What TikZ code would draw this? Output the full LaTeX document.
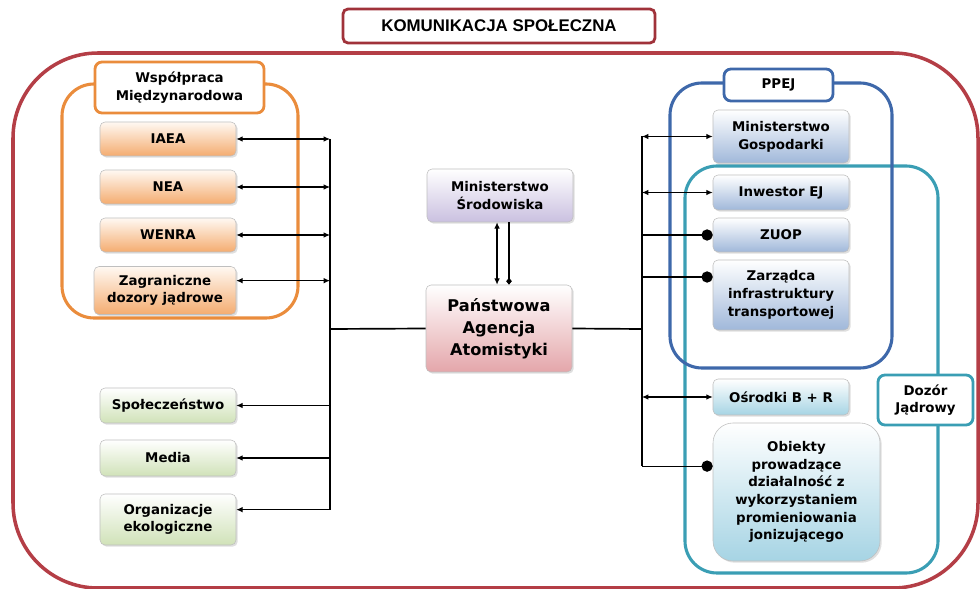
\documentclass[tikz,border=0pt]{standalone}
\usepackage{fontspec}
\setmainfont{DejaVu Sans}
\newfontfamily\titlefont{Liberation Sans}
\usepackage{tikz}
\usetikzlibrary{arrows.meta,shadows}

\newlength\px
\setlength\px{0.025cm}

\definecolor{framered}{RGB}{180,62,70}
\definecolor{titlered}{RGB}{160,50,58}
\definecolor{grporange}{RGB}{234,140,60}
\definecolor{grpblue}{RGB}{62,104,170}
\definecolor{grpteal}{RGB}{58,158,180}
\definecolor{orangelo}{RGB}{244,172,112}
\definecolor{greenlo}{RGB}{208,226,184}
\definecolor{purplelo}{RGB}{202,192,224}
\definecolor{pinklo}{RGB}{228,166,170}
\definecolor{bluelo}{RGB}{160,184,218}
\definecolor{cyanlo}{RGB}{166,212,228}

\begin{document}
\begin{tikzpicture}[x=1\px, y=-1\px,
    txt/.style={font=\fontsize{9.5}{12.6}\selectfont\bfseries, align=center},
    item/.style={txt, draw=black!25, rounded corners=5\px, inner sep=1pt,
        drop shadow={opacity=0.25, shadow xshift=1.2pt, shadow yshift=-1.2pt}},
    orng/.style={item, top color=orange!5, bottom color=orangelo},
    grn/.style={item, top color=white, bottom color=greenlo},
    prpl/.style={item, top color=white, bottom color=purplelo},
    pnk/.style={item, top color=white, bottom color=pinklo},
    blu/.style={item, top color=white, bottom color=bluelo},
    cyn/.style={item, top color=white, bottom color=cyanlo},
    grp/.style={draw=#1, line width=2.2pt, rounded corners=32\px},
    lbl/.style={txt, draw=#1, line width=2pt, fill=white, rounded corners=7\px},
    conn/.style={line width=0.8pt},
    dbl/.style={conn, {Latex[length=4.5pt,width=4pt]}-{Latex[length=4.5pt,width=4pt]}},
    one/.style={conn, -{Latex[length=4.5pt,width=4pt]}},
    dot/.style={conn, -{Circle[length=8pt]}},
    dia/.style={conn, -{Diamond[length=5pt,width=4pt]}}]

    \useasboundingbox (0,0) rectangle (980,589);
    \clip (0,0) rectangle (980,589);

    \draw[framered, line width=2.5pt, rounded corners=85\px] (13,53) rectangle (978,588);
    \node[draw=titlered, line width=2pt, rounded corners=5\px, fill=white,
        minimum width=312\px, minimum height=34\px,
        font=\titlefont\fontsize{12}{14}\selectfont\bfseries] (title) at (499,26) {KOMUNIKACJA SPOŁECZNA};

    \draw[grp=grporange] (62,84) rectangle (298,318);
    \draw[grp=grpteal] (685,166) rectangle (938,573);
    \draw[grp=grpblue] (670,83) rectangle (892,368);

    \node[lbl=grporange, minimum width=169\px, minimum height=51\px] (wsp) at (179.5,87.5) {Współpraca\\Międzynarodowa};
    \node[lbl=grpblue, minimum width=109\px, minimum height=32\px] (ppej) at (778.5,85) {PPEJ};
    \node[lbl=grpteal, minimum width=95\px, minimum height=50\px] (dozor) at (925.5,400) {Dozór\\Jądrowy};

    \node[orng, minimum width=136\px, minimum height=34\px] (iaea) at (168,139) {IAEA};
    \node[orng, minimum width=136\px, minimum height=34\px] (nea) at (168,187) {NEA};
    \node[orng, minimum width=136\px, minimum height=34\px] (wenra) at (168,235) {WENRA};
    \node[orng, minimum width=142\px, minimum height=48\px] (zagr) at (165,290.5) {Zagraniczne\\dozory jądrowe};

    \node[grn, minimum width=136\px, minimum height=35\px] (spol) at (168,405.5) {Społeczeństwo};
    \node[grn, minimum width=136\px, minimum height=36\px] (media) at (168,458) {Media};
    \node[grn, minimum width=136\px, minimum height=51\px] (org) at (168,519.5) {Organizacje\\ekologiczne};

    \node[prpl, minimum width=146\px, minimum height=53\px] (ms) at (500,195.5) {Ministerstwo\\Środowiska};
    \node[pnk, minimum width=146\px, minimum height=87\px, font=\fontsize{11.5}{15.5}\selectfont\bfseries] (paa) at (499,328.5) {Państwowa\\Agencja\\Atomistyki};

    \node[blu, minimum width=136\px, minimum height=53\px] (mg) at (781,136.5) {Ministerstwo\\Gospodarki};
    \node[blu, minimum width=136\px, minimum height=35\px] (inw) at (781,192.5) {Inwestor EJ};
    \node[blu, minimum width=136\px, minimum height=34\px] (zuop) at (781,235) {ZUOP};
    \node[blu, minimum width=136\px, minimum height=70\px] (zarz) at (781,295) {Zarządca\\infrastruktury\\transportowej};
    \node[cyn, minimum width=136\px, minimum height=36\px] (osr) at (781,397) {Ośrodki B + R};
    \node[cyn, rounded corners=20\px, minimum width=167\px, minimum height=138\px] (obi) at (796.5,492) {Obiekty\\prowadzące\\działalność z\\wykorzystaniem\\promieniowania\\jonizującego};

    \coordinate (lbus) at (330,329);
    \coordinate (rbus) at (642,329);
    \coordinate (zagrin) at ([yshift=7pt]zagr.east);
    \coordinate (orgin) at ([yshift=7pt]org.east);
    \coordinate (zarzin) at ([yshift=12.8pt]zarz.west);
    \coordinate (obiin) at ([yshift=18.4pt]obi.west);
    \coordinate (msa) at ([xshift=-2.1pt]ms.south);
    \coordinate (msb) at ([xshift=6.4pt]ms.south);

    \draw[conn] (iaea.east -| lbus) -- (orgin -| lbus);
    \draw[conn] (mg.west -| rbus) -- (obiin -| rbus);
    \draw[conn, line width=1.2pt] (paa.west) -- (lbus);
    \draw[conn, line width=1.2pt] (paa.east) -- (rbus);

    \draw[dbl] (iaea.east) -- (iaea.east -| lbus);
    \draw[dbl] (nea.east) -- (nea.east -| lbus);
    \draw[dbl] (wenra.east) -- (wenra.east -| lbus);
    \draw[dbl] (zagrin) -- (zagrin -| lbus);
    \draw[one] (spol.east -| lbus) -- (spol.east);
    \draw[one] (media.east -| lbus) -- (media.east);
    \draw[one] (orgin -| lbus) -- (orgin);

    \draw[dbl] (msa) -- (msa |- paa.north);
    \draw[dia] (msb) -- (msb |- paa.north);

    \draw[dbl] (mg.west -| rbus) -- (mg.west);
    \draw[dbl] (inw.west -| rbus) -- (inw.west);
    \draw[dot] (zuop.west -| rbus) -- (zuop.west);
    \draw[dot] (zarzin -| rbus) -- (zarzin);
    \draw[dbl] (osr.west -| rbus) -- (osr.west);
    \draw[dot] (obiin -| rbus) -- (obiin);

\end{tikzpicture}
\end{document}
